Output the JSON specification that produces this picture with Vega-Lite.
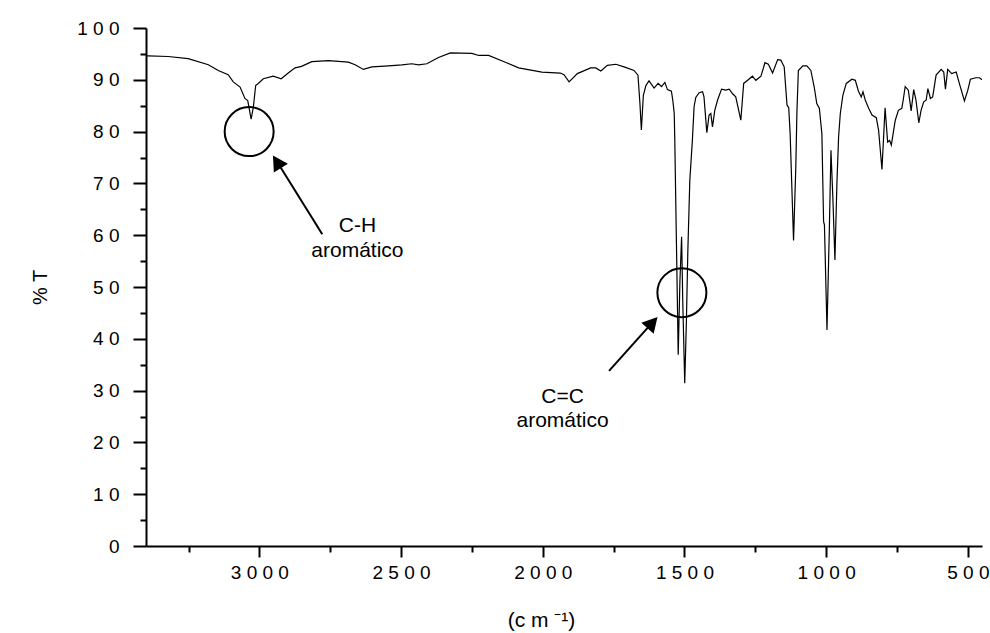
{
  "$schema": "https://vega.github.io/schema/vega-lite/v6.json",
  "width": 836,
  "height": 518,
  "autosize": {"type": "none"},
  "padding": {"left": 146, "top": 28, "right": 8, "bottom": 87},
  "background": "white",
  "config": {"view": {"stroke": null}},
  "datasets": {
    "spectrum": [
      {"wn": 3400, "T": 94.6}, {"wn": 3392, "T": 94.6}, {"wn": 3322, "T": 94.5}, {"wn": 3251, "T": 94.1},
      {"wn": 3180, "T": 92.9}, {"wn": 3145, "T": 91.8}, {"wn": 3110, "T": 91.0}, {"wn": 3092, "T": 89.6},
      {"wn": 3068, "T": 88.6}, {"wn": 3051, "T": 86.4}, {"wn": 3041, "T": 86.0}, {"wn": 3029, "T": 82.4},
      {"wn": 3021, "T": 84.8}, {"wn": 3013, "T": 88.9}, {"wn": 3004, "T": 89.3}, {"wn": 2986, "T": 90.2},
      {"wn": 2951, "T": 90.7}, {"wn": 2923, "T": 90.2}, {"wn": 2898, "T": 91.3}, {"wn": 2874, "T": 92.3},
      {"wn": 2851, "T": 92.6}, {"wn": 2815, "T": 93.5}, {"wn": 2756, "T": 93.7}, {"wn": 2686, "T": 93.4},
      {"wn": 2662, "T": 92.9}, {"wn": 2633, "T": 92.0}, {"wn": 2603, "T": 92.5}, {"wn": 2544, "T": 92.7},
      {"wn": 2497, "T": 92.9}, {"wn": 2462, "T": 93.1}, {"wn": 2438, "T": 92.9}, {"wn": 2409, "T": 93.1},
      {"wn": 2368, "T": 94.3}, {"wn": 2326, "T": 95.2}, {"wn": 2250, "T": 95.1}, {"wn": 2226, "T": 94.7},
      {"wn": 2191, "T": 94.7}, {"wn": 2132, "T": 93.4}, {"wn": 2085, "T": 92.3}, {"wn": 2003, "T": 91.5},
      {"wn": 1938, "T": 91.3}, {"wn": 1925, "T": 91.0}, {"wn": 1907, "T": 89.6}, {"wn": 1878, "T": 91.2},
      {"wn": 1831, "T": 92.3}, {"wn": 1813, "T": 92.3}, {"wn": 1795, "T": 91.7}, {"wn": 1772, "T": 92.8},
      {"wn": 1742, "T": 93.0}, {"wn": 1713, "T": 92.5}, {"wn": 1678, "T": 91.8}, {"wn": 1664, "T": 90.9},
      {"wn": 1657, "T": 85.4}, {"wn": 1652, "T": 80.3}, {"wn": 1645, "T": 87.0}, {"wn": 1636, "T": 88.9},
      {"wn": 1625, "T": 89.8}, {"wn": 1607, "T": 88.4}, {"wn": 1593, "T": 89.3}, {"wn": 1581, "T": 88.7},
      {"wn": 1569, "T": 89.5}, {"wn": 1560, "T": 88.1}, {"wn": 1546, "T": 87.8}, {"wn": 1541, "T": 86.0},
      {"wn": 1536, "T": 83.5}, {"wn": 1534, "T": 78.3}, {"wn": 1529, "T": 61.0}, {"wn": 1525, "T": 47.5},
      {"wn": 1522, "T": 36.9}, {"wn": 1516, "T": 51.0}, {"wn": 1510, "T": 59.7}, {"wn": 1506, "T": 47.5},
      {"wn": 1499, "T": 31.4}, {"wn": 1493, "T": 43.6}, {"wn": 1488, "T": 57.0}, {"wn": 1481, "T": 70.6},
      {"wn": 1472, "T": 78.3}, {"wn": 1466, "T": 84.8}, {"wn": 1460, "T": 86.6}, {"wn": 1448, "T": 87.5},
      {"wn": 1436, "T": 87.7}, {"wn": 1431, "T": 86.7}, {"wn": 1421, "T": 79.8}, {"wn": 1413, "T": 83.2},
      {"wn": 1407, "T": 83.5}, {"wn": 1401, "T": 80.9}, {"wn": 1393, "T": 84.1}, {"wn": 1383, "T": 86.1},
      {"wn": 1369, "T": 88.2}, {"wn": 1354, "T": 88.0}, {"wn": 1342, "T": 88.2}, {"wn": 1330, "T": 87.3},
      {"wn": 1319, "T": 86.7}, {"wn": 1301, "T": 82.2}, {"wn": 1291, "T": 89.3}, {"wn": 1277, "T": 89.9},
      {"wn": 1260, "T": 90.7}, {"wn": 1248, "T": 89.9}, {"wn": 1230, "T": 90.7}, {"wn": 1216, "T": 93.3},
      {"wn": 1204, "T": 93.0}, {"wn": 1189, "T": 91.3}, {"wn": 1171, "T": 93.9}, {"wn": 1160, "T": 93.8},
      {"wn": 1148, "T": 92.5}, {"wn": 1138, "T": 85.1}, {"wn": 1132, "T": 84.6}, {"wn": 1127, "T": 79.6},
      {"wn": 1115, "T": 59.0}, {"wn": 1107, "T": 73.2}, {"wn": 1103, "T": 84.0}, {"wn": 1100, "T": 88.6},
      {"wn": 1098, "T": 91.8}, {"wn": 1082, "T": 92.7}, {"wn": 1068, "T": 92.7}, {"wn": 1054, "T": 91.8},
      {"wn": 1042, "T": 88.6}, {"wn": 1033, "T": 85.4}, {"wn": 1024, "T": 84.5}, {"wn": 1015, "T": 79.6},
      {"wn": 1009, "T": 62.6}, {"wn": 1006, "T": 62.0}, {"wn": 997, "T": 41.7}, {"wn": 989, "T": 60.3},
      {"wn": 983, "T": 76.4}, {"wn": 976, "T": 66.8}, {"wn": 969, "T": 55.2}, {"wn": 962, "T": 70.0},
      {"wn": 956, "T": 79.0}, {"wn": 950, "T": 83.5}, {"wn": 941, "T": 87.0}, {"wn": 929, "T": 89.3},
      {"wn": 909, "T": 90.1}, {"wn": 897, "T": 89.9}, {"wn": 886, "T": 87.8}, {"wn": 876, "T": 86.7},
      {"wn": 870, "T": 87.7}, {"wn": 862, "T": 86.1}, {"wn": 850, "T": 84.5}, {"wn": 838, "T": 83.2},
      {"wn": 823, "T": 82.7}, {"wn": 815, "T": 80.3}, {"wn": 803, "T": 72.7}, {"wn": 792, "T": 84.6},
      {"wn": 783, "T": 78.0}, {"wn": 776, "T": 78.3}, {"wn": 770, "T": 77.4}, {"wn": 756, "T": 82.2},
      {"wn": 745, "T": 84.1}, {"wn": 733, "T": 84.5}, {"wn": 728, "T": 86.1}, {"wn": 721, "T": 88.7},
      {"wn": 710, "T": 88.0}, {"wn": 700, "T": 84.0}, {"wn": 691, "T": 88.1}, {"wn": 683, "T": 86.1},
      {"wn": 673, "T": 81.7}, {"wn": 665, "T": 84.1}, {"wn": 656, "T": 85.7}, {"wn": 647, "T": 86.1},
      {"wn": 641, "T": 88.3}, {"wn": 632, "T": 86.4}, {"wn": 624, "T": 86.7}, {"wn": 612, "T": 90.9},
      {"wn": 594, "T": 92.0}, {"wn": 585, "T": 91.5}, {"wn": 579, "T": 88.2}, {"wn": 571, "T": 92.0},
      {"wn": 557, "T": 91.2}, {"wn": 541, "T": 91.5}, {"wn": 530, "T": 89.3}, {"wn": 512, "T": 85.9},
      {"wn": 500, "T": 88.0}, {"wn": 491, "T": 90.1}, {"wn": 471, "T": 90.4}, {"wn": 459, "T": 90.4},
      {"wn": 450, "T": 90.0}
    ],
    "circles": [
      {"wn": 3036, "T": 80.0},
      {"wn": 1509, "T": 48.9}
    ],
    "shafts": [
      {"band": "C-H", "wn": 2778, "T": 60.2, "wn2": 2933, "T2": 73.8},
      {"band": "C=C", "wn": 1766, "T": 33.8, "wn2": 1619, "T2": 42.8}
    ],
    "headCH": [{"wn": 2952, "T": 75.4}],
    "headCC": [{"wn": 1595, "T": 44.2}],
    "labels": [
      {"wn": 2654, "T": 60.6, "text": "C-H"},
      {"wn": 2654, "T": 55.8, "text": "aromático"},
      {"wn": 1930, "T": 27.6, "text": "C=C"},
      {"wn": 1930, "T": 23.0, "text": "aromático"}
    ]
  },
  "encoding": {
    "x": {
      "field": "wn", "type": "quantitative",
      "scale": {"domain": [3400, 450], "nice": false, "zero": false},
      "axis": {
        "title": "(c m  \u207B\u00B9)",
        "titleFont": "Liberation Sans", "titleFontSize": 21, "titleFontWeight": "normal", "titleColor": "black",
        "titleX": 395, "titleY": 74, "titleAlign": "center", "titleBaseline": "middle",
        "values": [3250, 3000, 2750, 2500, 2250, 2000, 1750, 1500, 1250, 1000, 750, 500],
        "labelExpr": "datum.value % 500 === 0 ? join(split(format(datum.value, 'd'), ''), ' ') : ''",
        "tickSize": {"condition": {"test": "datum.value % 500 === 0", "value": 11}, "value": 6},
        "tickWidth": 2, "tickColor": "black", "domainColor": "black", "domainWidth": 2,
        "labelFont": "Liberation Sans", "labelFontSize": 19, "labelColor": "black", "labelPadding": 6,
        "labelFlush": false, "labelOverlap": false, "grid": false
      }
    },
    "y": {
      "field": "T", "type": "quantitative",
      "scale": {"domain": [0, 100], "nice": false},
      "axis": {
        "title": "% T",
        "titleFont": "Liberation Sans", "titleFontSize": 20, "titleFontWeight": "normal", "titleColor": "black",
        "titleX": -106, "titleY": 259, "titleAlign": "center", "titleBaseline": "middle", "titleAngle": -90,
        "values": [0, 5, 10, 15, 20, 25, 30, 35, 40, 45, 50, 55, 60, 65, 70, 75, 80, 85, 90, 95, 100],
        "labelExpr": "datum.value % 10 === 0 ? join(split(format(datum.value, 'd'), ''), ' ') : ''",
        "tickSize": {"condition": {"test": "datum.value % 10 === 0", "value": 13}, "value": 6},
        "tickWidth": 2, "tickColor": "black", "domainColor": "black", "domainWidth": 2,
        "labelFont": "Liberation Sans", "labelFontSize": 19, "labelColor": "black", "labelPadding": 14,
        "labelFlush": false, "labelOverlap": false, "grid": false
      }
    }
  },
  "layer": [
    {
      "data": {"name": "spectrum"},
      "mark": {"type": "line", "color": "black", "strokeWidth": 1.2, "clip": true, "interpolate": "linear"}
    },
    {
      "data": {"name": "circles"},
      "mark": {"type": "point", "shape": "circle", "filled": false, "size": 2401, "stroke": "black", "strokeWidth": 2, "opacity": 1}
    },
    {
      "data": {"name": "shafts"},
      "mark": {"type": "rule", "color": "black", "strokeWidth": 2},
      "encoding": {
        "x2": {"field": "wn2"},
        "y2": {"field": "T2"}
      }
    },
    {
      "data": {"name": "headCH"},
      "mark": {"type": "point", "shape": "M0,0L0.55,1L-0.55,1Z", "filled": true, "size": 900, "color": "black", "opacity": 1, "angle": -31.8}
    },
    {
      "data": {"name": "headCC"},
      "mark": {"type": "point", "shape": "M0,0L0.55,1L-0.55,1Z", "filled": true, "size": 900, "color": "black", "opacity": 1, "angle": 41.9}
    },
    {
      "data": {"name": "labels"},
      "mark": {"type": "text", "font": "Liberation Sans", "fontSize": 21, "align": "center", "baseline": "alphabetic", "color": "black"},
      "encoding": {
        "text": {"field": "text"}
      }
    }
  ]
}
